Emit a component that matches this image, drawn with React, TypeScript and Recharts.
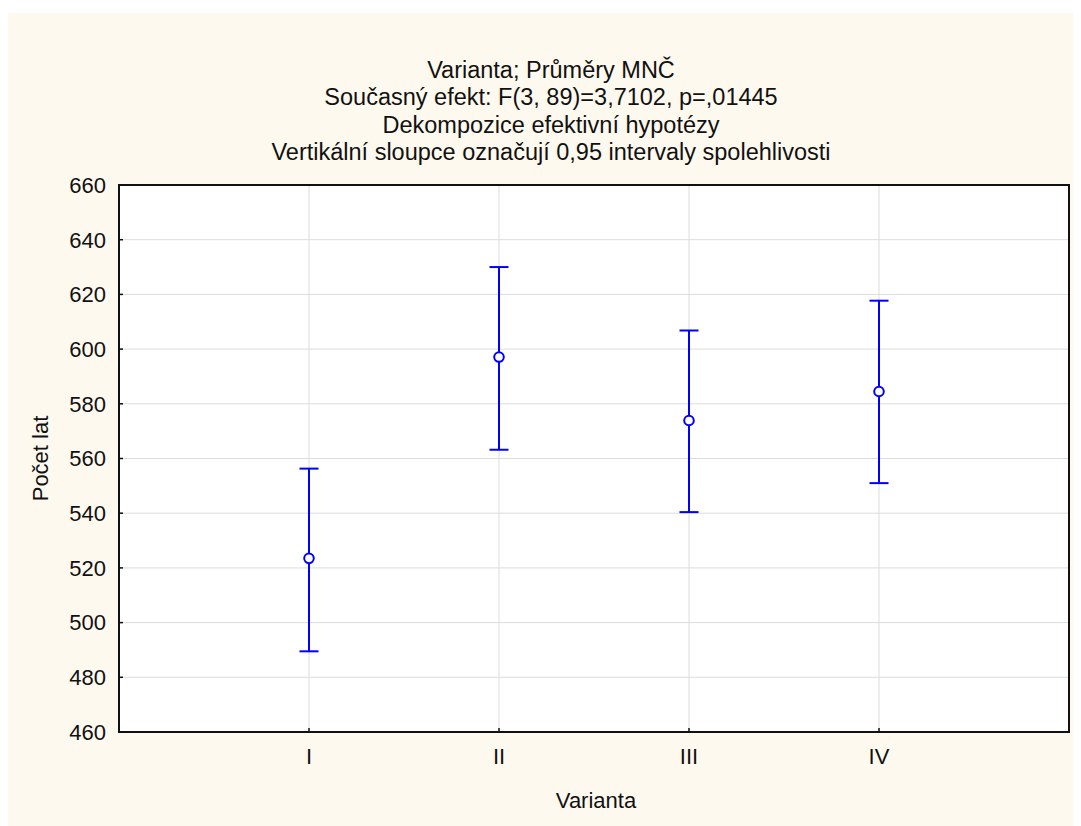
import React from 'react';
import {
  ComposedChart,
  Scatter,
  XAxis,
  YAxis,
  CartesianGrid,
  ErrorBar,
  ReferenceArea,
  Label,
} from 'recharts';

const categories = ['I', 'II', 'III', 'IV'];
const means = [523.5, 597.1, 573.9, 584.5];
const lowerBounds = [489.5, 563.2, 540.4, 551.0];
const upperBounds = [556.3, 630.0, 606.8, 617.7];
const yTicks = [460, 480, 500, 520, 540, 560, 580, 600, 620, 640, 660];
const xTicks = [1, 2, 3, 4];
const titleLines = [
  'Varianta; Průměry MNČ',
  'Současný efekt: F(3, 89)=3,7102, p=,01445',
  'Dekompozice efektivní hypotézy',
  'Vertikální sloupce označují 0,95 intervaly spolehlivosti',
];
const xLabel = 'Varianta';
const yLabel = 'Počet lat';

const data = categories.map((c, i) => ({
  x: i + 1,
  name: c,
  mean: means[i],
  err: [means[i] - lowerBounds[i], upperBounds[i] - means[i]],
}));

const BLUE = '#0000FF';
const FONT = '"Liberation Sans", Arial, sans-serif';

const Dot = (props: any) => (
  <circle cx={props.cx} cy={props.cy} r={4.8} fill="#fff" stroke={BLUE} strokeWidth={2} />
);

export default function App() {
  return (
    <div style={{ paddingTop: 5 }}>
      <div
        style={{
          position: 'relative',
          width: 1073,
          height: 813,
          background: '#FEF9EE',
          fontFamily: FONT,
        }}
      >
        <div
          style={{
            position: 'absolute',
            left: 0,
            top: 44,
            width: 1086,
            textAlign: 'center',
            fontSize: 23.5,
            lineHeight: '27.3px',
            color: '#111',
          }}
        >
          {titleLines.map((t) => (
            <div key={t}>{t}</div>
          ))}
        </div>
        <ComposedChart
          width={1073}
          height={813}
          data={data}
          margin={{ top: 172, right: 12, bottom: 34, left: 51 }}
          style={{ position: 'absolute', left: 0, top: 0 }}
        >
          <CartesianGrid
            yAxisId="left"
            stroke="#dcdcdc"
            strokeWidth={1}
            fill="#ffffff"
            horizontalValues={yTicks}
          />
          <XAxis
            dataKey="x"
            type="number"
            domain={[0, 5]}
            ticks={xTicks}
            interval={0}
            tickFormatter={(v: number) => categories[v - 1] ?? ''}
            height={60}
            axisLine={{ stroke: '#111', strokeWidth: 2 }}
            tickLine={{ stroke: '#111', strokeWidth: 1.5 }}
            tickSize={-4}
            tickMargin={20}
            tick={{ fill: '#111', fontSize: 22, fontFamily: FONT }}
          >
            <Label
              content={(p: any) => {
                const vb = p.viewBox;
                return (
                  <text
                    x={vb.x + vb.width / 2 + 2}
                    y={vb.y + 68}
                    textAnchor="middle"
                    dominantBaseline="central"
                    fontSize={22}
                    fontFamily={FONT}
                    fill="#111"
                  >
                    {xLabel}
                  </text>
                );
              }}
            />
          </XAxis>
          <YAxis
            yAxisId="left"
            type="number"
            domain={[460, 660]}
            ticks={yTicks}
            interval={0}
            width={60}
            axisLine={{ stroke: '#111', strokeWidth: 2 }}
            tickLine={{ stroke: '#111', strokeWidth: 1.5 }}
            tickSize={-4}
            tickMargin={17}
            tick={{ fill: '#111', fontSize: 22, fontFamily: FONT }}
          >
            <Label
              content={(p: any) => {
                const vb = p.viewBox;
                const cx = vb.x - 19;
                const cy = vb.y + vb.height / 2;
                return (
                  <text
                    x={cx}
                    y={cy}
                    textAnchor="middle"
                    dominantBaseline="central"
                    transform={`rotate(-90 ${cx} ${cy})`}
                    fontSize={22}
                    fontFamily={FONT}
                    fill="#111"
                  >
                    {yLabel}
                  </text>
                );
              }}
            />
          </YAxis>
          <YAxis
            yAxisId="right"
            orientation="right"
            type="number"
            domain={[460, 660]}
            ticks={yTicks}
            interval={0}
            width={0}
            axisLine={{ stroke: '#111', strokeWidth: 2 }}
            tickLine={{ stroke: '#111', strokeWidth: 1.5 }}
            tickSize={-4}
            tickFormatter={() => ''}
          />
          <ReferenceArea
            yAxisId="left"
            x1={0}
            x2={5}
            y1={460}
            y2={660}
            fill="none"
            fillOpacity={0}
            stroke="#111"
            strokeWidth={2}
            ifOverflow="visible"
          />
          <Scatter
            yAxisId="left"
            dataKey="mean"
            fill={BLUE}
            shape={<Dot />}
            isAnimationActive={false}
          >
            <ErrorBar
              dataKey="err"
              direction="y"
              width={9.5}
              stroke={BLUE}
              strokeWidth={2}
              isAnimationActive={false}
            />
          </Scatter>
        </ComposedChart>
      </div>
    </div>
  );
}
